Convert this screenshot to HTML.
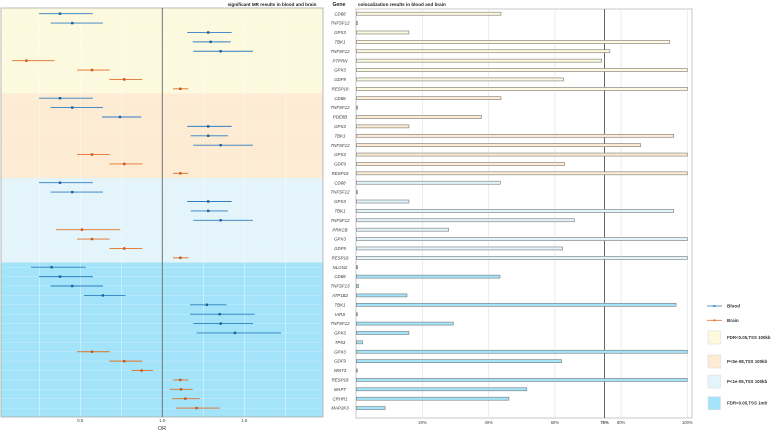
<!DOCTYPE html>
<html><head><meta charset="utf-8"><style>
body{margin:0;background:#fff;}
svg{display:block;font-family:"Liberation Sans",sans-serif;}
</style></head><body>
<svg id="chart" width="777" height="433" viewBox="0 0 777 433">
<g id="g"></g>
</svg>
<script>
const genes=["CD68","TNFSF12","GPX3","TBK1","TNFSF12","PTPRN","GPX3","GDF9","RESP18",
"CD68","TNFSF12","PDE8B","GPX3","TBK1","TNFSF12","GPX3","GDF9","RESP18",
"CD68","TNFSF12","GPX3","TBK1","TNFSF12","PRKCB","GPX3","GDF9","RESP18",
"NLGN2","CD68","TNFSF13","ATP1B2","TBK1","IARS","TNFSF12","GPX3","TP53","GPX3","GDF9","WNT3","RESP18","MAPT","CRHR1","MAP2K3"];
const groupIdx=[0,0,0,0,0,0,0,0,0,1,1,1,1,1,1,1,1,1,2,2,2,2,2,2,2,2,2,3,3,3,3,3,3,3,3,3,3,3,3,3,3,3,3];
const tissue=["B","B","B","B","B","R","R","R","R","B","B","B","B","B","B","R","R","R","B","B","B","B","B","R","R","R","R","B","B","B","B","B","B","B","B","","R","R","R","R","R","R","R"];
const orVal=[0.376,0.451,1.280,1.295,1.356,0.171,0.571,0.768,1.110,0.376,0.451,0.742,1.280,1.280,1.356,0.571,0.768,1.110,0.376,0.451,1.280,1.280,1.356,0.510,0.571,0.768,1.110,0.325,0.376,0.451,0.638,1.272,1.350,1.356,1.443,null,0.571,0.768,0.874,1.110,1.114,1.140,1.209];
const orLo=[0.248,0.319,1.152,1.185,1.189,0.085,0.480,0.677,1.065,0.248,0.319,0.632,1.152,1.173,1.189,0.480,0.677,1.065,0.248,0.319,1.152,1.173,1.189,0.352,0.480,0.677,1.065,0.199,0.248,0.319,0.522,1.169,1.169,1.189,1.209,null,0.480,0.677,0.813,1.065,1.045,1.059,1.085];
const orHi=[0.577,0.638,1.423,1.417,1.553,0.343,0.679,0.878,1.159,0.577,0.638,0.872,1.423,1.400,1.553,0.679,0.878,1.159,0.577,0.638,1.423,1.400,1.553,0.744,0.679,0.878,1.159,0.533,0.577,0.638,0.776,1.392,1.563,1.553,1.724,null,0.679,0.878,0.943,1.159,1.185,1.228,1.350];
const coloc=[43.7,0.4,15.9,94.7,76.6,74.1,100,62.6,100,43.7,0.4,37.8,15.9,95.9,85.9,100,62.9,100,43.5,0.4,15.9,95.9,65.9,27.9,100,62.3,100,0.4,43.4,0.7,15.3,96.6,0.3,29.3,15.9,1.9,100,62,0.3,100,51.5,46.1,8.7];
const orTicks=[0.5,1.0,1.5];
const pctTicks=[20,40,60,75,80,100];
const groupNames=["FDR<0.05,TSS 100kb","P<5e-08,TSS 100kb","P<1e-05,TSS 100kb","FDR<0.05,TSS 1mb"];
const groupColors=["#fdf9df","#fdebd3","#e3f4fb","#a3e4fa"];

const NS="http://www.w3.org/2000/svg";
const g=document.getElementById('g');
function el(t,a,txt){const e=document.createElementNS(NS,t);for(const k in a)e.setAttribute(k,a[k]);if(txt!=null)e.textContent=txt;g.appendChild(e);return e;}
const rowY=i=>13.7+i*9.39;
const xOR=v=>162.3+(v-1)*164;
const xP=p=>356.3+p*3.31;
const FL=1,FR=323,FT=8,FB=417;
// bands
for(let k=0;k<4;k++){
  const idx=groupIdx.map((v,i)=>v===k?i:-1).filter(i=>i>=0);
  const y0=k===0?FT:rowY(idx[0])-4.7, y1=k===3?FB:rowY(idx[idx.length-1])+4.7;
  const r=el('rect',{x:FL,y:y0,width:FR-FL,height:y1-y0,fill:groupColors[k]});
  
  
}
// grid
for(let v=0.25;v<2;v+=0.25){const l=el('line',{x1:xOR(v),x2:xOR(v),y1:FT,y2:FB,stroke:'#fff','stroke-opacity':0.6,'stroke-width':0.6});}
genes.forEach((_,i)=>{const l=el('line',{x1:FL,x2:FR,y1:rowY(i),y2:rowY(i),stroke:'#fff','stroke-opacity':0.5,'stroke-width':0.4});});
let f=el('rect',{x:FL,y:FT,width:FR-FL,height:FB-FT,fill:'none',stroke:'#aaa','stroke-width':0.8});

let ref=el('line',{x1:xOR(1),x2:xOR(1),y1:FT,y2:FB,stroke:'#666','stroke-width':0.9});

// points
genes.forEach((gn,i)=>{
  if(orVal[i]==null)return;
  const c=tissue[i]==="B"?"#2f7ec0":"#e0702a";
  const l=el('line',{x1:xOR(orLo[i]),x2:xOR(orHi[i]),y1:rowY(i),y2:rowY(i),stroke:c,'stroke-width':0.9});
  
  
  const p=el('rect',{x:xOR(orVal[i])-1.2,y:rowY(i)-1.2,width:2.4,height:2.4,fill:tissue[i]==="B"?"#1f5f9c":"#c9561a"});
  
  
});
orTicks.forEach(v=>{const t=el('text',{x:xOR(v),y:422,'font-size':4.5,'text-anchor':'middle',fill:'#444'},v.toFixed(1));});
let t=el('text',{x:162,y:430,'font-size':5.5,'text-anchor':'middle',fill:'#333'},'OR');
t=el('text',{x:272,y:6,'font-size':4.6,'font-weight':'bold','text-anchor':'middle',fill:'#222'},'significant MR results in blood and brain');
t=el('text',{x:339,y:6,'font-size':5.2,'font-weight':'bold','text-anchor':'middle',fill:'#222'},'Gene');
t=el('text',{x:358,y:6,'font-size':4.6,'font-weight':'bold',fill:'#222'},'colocalization results in blood and brain');
// gene labels
genes.forEach((gn,i)=>{const e=el('text',{x:340,y:rowY(i)+1.6,'font-size':4.4,'font-style':'italic','text-anchor':'middle',fill:'#333'},gn);});
// bar panel
const BL=356,BR=692,BT=9,BB=418;
f=el('rect',{x:BL,y:BT,width:BR-BL,height:BB-BT,fill:'#fff',stroke:'#bbb','stroke-width':0.8});

pctTicks.forEach(p=>{
  const l=el('line',{x1:xP(p),x2:xP(p),y1:BT,y2:BB,stroke:p===75?'#555':'#e4e4e4','stroke-width':p===75?0.9:0.7});
  
  
  const e=el('text',{x:xP(p),y:424,'font-size':4.2,'text-anchor':'middle',fill:'#444','font-weight':p===75?'bold':'normal'},p+'%');
  
  
});
genes.forEach((gn,i)=>{
  const r=el('rect',{x:xP(0),y:rowY(i)-1.5,width:Math.max(0.6,xP(coloc[i])-xP(0)),height:3,fill:groupColors[groupIdx[i]],stroke:'#777','stroke-width':0.6});
  
  
});
// legend
[["Blood","#2f7ec0",306],["Brain","#e0702a",320.3]].forEach(([n,c,y])=>{
  const l=el('line',{x1:707,x2:722,y1:y,y2:y,stroke:c,'stroke-width':0.8});
  const d=el('rect',{x:713.5,y:y-0.9,width:1.8,height:1.8,fill:c});
  const e=el('text',{x:727,y:y+1.6,'font-size':4.6,fill:'#333','font-weight':'bold'},n);
});
[331,355,375,396.7].forEach((y,k)=>{
  const r=el('rect',{x:708,y:y,width:12.5,height:13,fill:groupColors[k],stroke:'#ddd','stroke-width':0.6});
  const e=el('text',{x:727,y:y+8,'font-size':4.4,fill:'#333','font-weight':'bold'},groupNames[k]);
});
</script>
</body></html>
